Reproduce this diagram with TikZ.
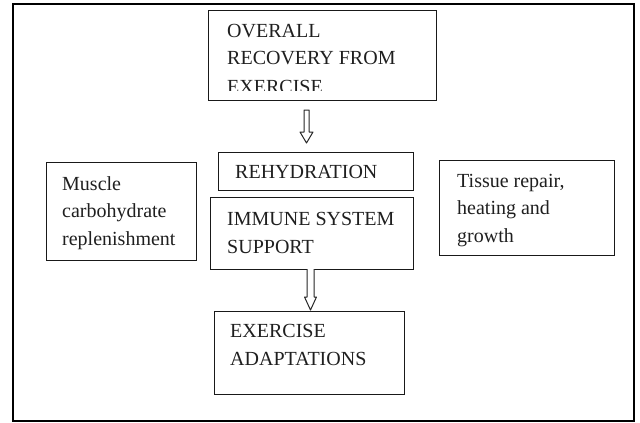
\documentclass[tikz,border=0pt]{standalone}
\usepackage{fontspec}
\setmainfont{Liberation Serif}
\usetikzlibrary{calc}
\tikzset{
  x=1pt, y=-1pt,
  boxnode/.style={draw=black!90, line width=1.1pt, rectangle, inner sep=0pt, anchor=north west},
  txtnode/.style={inner sep=0pt, anchor=base west, text=black!88, font=\fontsize{20}{28}\selectfont},
  hollow/.style={draw=black!85, line width=1pt, fill=white, line join=round},
  frameline/.style={draw=black, line width=2.4pt}
}
\begin{document}
\begin{tikzpicture}
\useasboundingbox (0,0) rectangle (640,423);
\draw[frameline] (13,4) rectangle (634,421);

% boxes
\node[boxnode, minimum width=228pt, minimum height=90pt] (top) at (208,10) {};
\node[boxnode, minimum width=195pt, minimum height=38pt] (rehyd) at (218,152) {};
\node[boxnode, minimum width=203pt, minimum height=72pt] (immune) at (210,197) {};
\node[boxnode, minimum width=190pt, minimum height=83pt] (adapt) at (214,311) {};
\node[boxnode, minimum width=150pt, minimum height=98pt] (left) at (46,162) {};
\node[boxnode, minimum width=175pt, minimum height=95pt] (right) at (439,160) {};

% texts
\begin{scope}
\clip (209,11) rectangle (435,90);
\node[txtnode] (topT) at (227,37) {\vtop{\hbox{OVERALL}\hbox{RECOVERY FROM}\hbox{EXERCISE}}};
\end{scope}
\node[txtnode] (rehydT) at (235,178) {REHYDRATION};
\node[txtnode] (immuneT) at (227,225) {\vtop{\hbox{IMMUNE SYSTEM}\hbox{SUPPORT}}};
\node[txtnode] (adaptT) at (230,337) {\vtop{\hbox{EXERCISE}\hbox{ADAPTATIONS}}};
\node[txtnode, font=\fontsize{20}{27.5}\selectfont] (leftT) at (62,190) {\vtop{\hbox{Muscle}\hbox{carbohydrate}\hbox{replenishment}}};
\node[txtnode, font=\fontsize{20}{27.5}\selectfont] (rightT) at (457,187) {\vtop{\hbox{Tissue repair,}\hbox{heating and}\hbox{growth}}};

% hollow block arrows
\coordinate (a1) at (306.5,110);
\coordinate (a1tip) at (306.5,143);
\draw[hollow] ($(a1)+(-2.5,0)$) -- ($(a1tip)+(-2.5,-11)$) -- ($(a1tip)+(-6.5,-11)$) -- (a1tip)
  -- ($(a1tip)+(6.5,-11)$) -- ($(a1tip)+(2.5,-11)$) -- ($(a1)+(2.5,0)$) -- cycle;

\coordinate (a2) at (310.5,269);
\coordinate (a2tip) at (310.5,310);
\draw[hollow] ($(a2)+(-3.5,0)$) -- ($(a2tip)+(-3.5,-13)$) -- ($(a2tip)+(-6,-13)$) -- (a2tip)
  -- ($(a2tip)+(6,-13)$) -- ($(a2tip)+(3.5,-13)$) -- ($(a2)+(3.5,0)$);
\end{tikzpicture}
\end{document}
